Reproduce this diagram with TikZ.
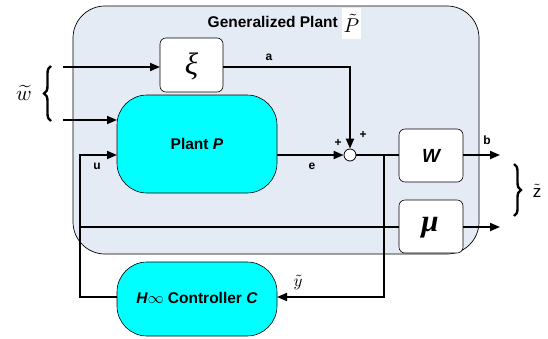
\documentclass[tikz,border=0pt]{standalone}
\usepackage{fontspec}
\usepackage{graphicx}
\setmainfont{Liberation Sans}
\newfontfamily\serifgr{Liberation Serif}
\usetikzlibrary{arrows.meta,decorations.pathreplacing}
\definecolor{plantbg}{HTML}{E5EBF5}
\definecolor{cyanbox}{HTML}{00FFFF}
\begin{document}
\begin{tikzpicture}[x=1pt,y=-1pt,
  sig/.style={line width=1.8pt},
  arr/.style={sig,-{Triangle[length=10pt,width=8pt]}},
  smallbox/.style={draw=black,line width=0.6pt,fill=white,rounded corners=6pt},
  bigbox/.style={draw=black,line width=0.6pt,fill=cyanbox,rounded corners=30pt},
  lbl/.style={font=\bfseries\fontsize{12}{12}\selectfont},
  inner sep=0pt]
\useasboundingbox (0,0) rectangle (548,338);
% outer plant
\draw[line width=0.7pt,fill=plantbg,rounded corners=32pt] (73,6) rectangle (479,254);
\node[font=\bfseries\fontsize{15.5}{15.5}\selectfont,anchor=east] (title) at (338,22) {Generalized Plant};
\node[fill=white,minimum width=19pt,minimum height=31pt] (ptil) at (351.5,23.5) {\scalebox{2}{$\tilde{P}$}};
% blocks
\path (160,38) coordinate (xa) (223,92) coordinate (xb);
\draw[smallbox] (xa) rectangle (xb);
\node (xi) at (191.5,66) {\serifgr\itshape\fontsize{31}{31}\selectfont ξ};
\coordinate (xiW) at (160,67); \coordinate (xiE) at (223,67);
\draw[bigbox] (117,95) rectangle (277,193);
\node (plant) at (197,144) {\bfseries\fontsize{15.5}{15.5}\selectfont Plant \textit{P}};
\coordinate (plW1) at (117,120); \coordinate (plW2) at (117,155); \coordinate (plE) at (277,155);
\draw[smallbox] (399,129) rectangle (463,182);
\node (W) at (431,155.5) {\bfseries\itshape\fontsize{19}{19}\selectfont W};
\coordinate (WW) at (399,155); \coordinate (WE) at (463,155);
\draw[smallbox] (399,200) rectangle (463,253);
\node (mu) at (430,228) {\serifgr\bfseries\itshape\fontsize{31}{31}\selectfont μ};
\coordinate (muW) at (399,227); \coordinate (muE) at (463,227);
\draw[bigbox] (117,262) rectangle (277,336);
\node (ctrl) at (197,298) {\bfseries\fontsize{15.5}{15.5}\selectfont\textit{H}{\mdseries\scalebox{1.1}{$\infty$}} Controller \textit{C}};
\coordinate (cW) at (117,297); \coordinate (cE) at (277,297);
\node[circle,draw=black,line width=0.8pt,fill=white,minimum size=12pt] (sum) at (350,155) {};
% inputs
\coordinate (in1) at (63,67); \coordinate (in2) at (63,120);
\draw[arr] (in1) -- (xiW);
\draw[arr] (in2) -- (plW1);
\draw[line width=2.4pt,decorate,decoration={brace,amplitude=7pt}] (51,121) -- (51,66);
\node (wt) at (24,93) {\scalebox{2.1}{$\widetilde{w}$}};
% a path
\coordinate (acor) at (350,67);
\draw[arr] (xiE) -- (acor) -- (sum.north);
\node[lbl] (la) at (269,57) {a};
\node[lbl] (pl1) at (363,135) {+};
\node[lbl] (pl2) at (338,143) {+};
% e path
\draw[arr] (plE) -- (sum.west);
\node[lbl] (le) at (312,166) {e};
\draw[sig] (sum.east) -- (WW);
\coordinate (bout) at (500,155);
\draw[arr] (WE) -- (bout);
\node[lbl] (lb) at (487,140) {b};
% feedback y
\coordinate (yj) at (384,155); \coordinate (yc) at (384,297);
\draw[arr] (yj) -- (yc) -- (cE);
\node (ly) at (298,282) {\scalebox{1.7}{$\tilde{y}$}};
% u path
\coordinate (u1) at (80,297); \coordinate (u2) at (80,155); \coordinate (u3) at (80,227);
\draw[arr] (cW) -- (u1) -- (u2) -- (plW2);
\node[lbl] (lu) at (97,166) {u};
\draw[sig] (u3) -- (muW);
\coordinate (muout) at (500,227);
\draw[arr] (muE) -- (muout);
% right brace
\draw[line width=2.4pt,decorate,decoration={brace,amplitude=7pt}] (514,164) -- (514,216);
\node (zt) at (537,191) {\scalebox{1.7}{$\tilde{\mathrm{z}}$}};
\end{tikzpicture}
\end{document}
